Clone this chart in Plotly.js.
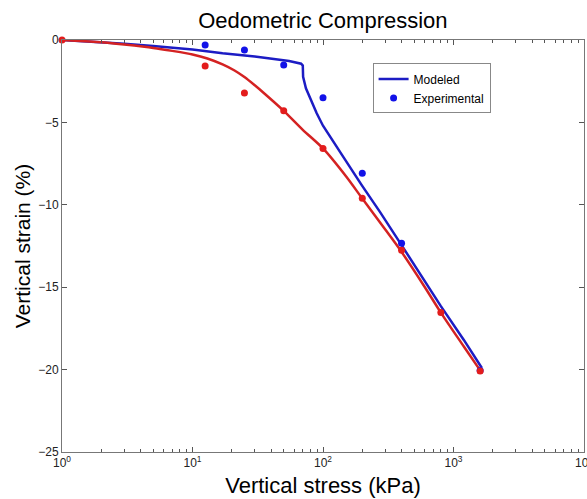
<!DOCTYPE html>
<html>
<head>
<meta charset="utf-8">
<script src="https://cdn.plot.ly/plotly-3.0.1.min.js"></script>
<style>html,body{margin:0;padding:0;background:#fff;}#chart{width:587px;height:499px;}</style>
</head>
<body>
<div id="chart"></div>
<script>
// Modeled curves (stress in kPa, strain in %)
var redModelX = [1, 1.5, 2, 3, 5, 7, 10, 13, 17, 21, 25, 30, 35, 50, 70, 100, 150, 200, 300, 400, 600, 800, 1200, 1600];
var redModelY = [0, -0.08, -0.14, -0.28, -0.48, -0.66, -0.88, -1.12, -1.48, -1.85, -2.25, -2.75, -3.2, -4.3, -5.45, -6.58, -8.27, -9.62, -11.5, -12.86, -14.97, -16.54, -18.6, -20.05];
var blueModelX = [1, 1.5, 2, 3, 5, 7, 10, 17, 30, 55, 64, 68, 70, 70.4, 74, 79.5, 89.5, 100, 113, 143, 198, 273, 400, 600, 800, 1200, 1650];
var blueModelY = [0, -0.08, -0.13, -0.22, -0.36, -0.46, -0.58, -0.81, -1.0, -1.27, -1.37, -1.44, -1.55, -2.23, -2.93, -3.54, -4.45, -5.2, -5.87, -7.09, -8.81, -10.43, -12.45, -14.6, -16.15, -18.2, -19.9];
// Experimental points
var redExpX = [1, 12.5, 25, 50, 100, 200, 400, 800, 1600];
var redExpY = [0, -1.58, -3.22, -4.3, -6.58, -9.6, -12.76, -16.54, -20.09];
var blueExpX = [12.5, 25, 50, 100, 200, 400, 1600];
var blueExpY = [-0.30, -0.61, -1.52, -3.5, -8.08, -12.33, -20.05];
// Axis ticks
var xMajor = [1, 10, 100, 1000, 10000];
var xMajorText = ['10<sup>0</sup>', '10<sup>1</sup>', '10<sup>2</sup>', '10<sup>3</sup>', '10<sup>4</sup>'];
var xMinorMult = [2, 3, 4, 5, 6, 7, 8, 9];
var yTicks = [-25, -20, -15, -10, -5, 0];

var xMinorVals = [];
for (var d = 0; d < xMajor.length - 1; d++) {
  for (var m = 0; m < xMinorMult.length; m++) xMinorVals.push(xMajor[d] * xMinorMult[m]);
}

var blueLine = '#1c1cc4', redLine = '#d42222';
var blueDot = '#1212e8', redDot = '#e31c1c';

var traces = [
  {x: blueModelX, y: blueModelY, mode: 'lines', name: 'Modeled', line: {color: blueLine, width: 2.5}},
  {x: redModelX, y: redModelY, mode: 'lines', name: 'Modeled (red)', showlegend: false, line: {color: redLine, width: 2.5, shape: 'spline', smoothing: 0.8}},
  {x: blueExpX, y: blueExpY, mode: 'markers', name: 'Experimental', cliponaxis: false, marker: {color: blueDot, size: 7}},
  {x: redExpX, y: redExpY, mode: 'markers', name: 'Experimental (red)', showlegend: false, cliponaxis: false, marker: {color: redDot, size: 7}}
];

var axisFont = {family: 'Liberation Sans, Arial, sans-serif', size: 12, color: '#222'};
var layout = {
  width: 587, height: 499,
  margin: {l: 62, r: 3, t: 40, b: 47},
  paper_bgcolor: '#fff', plot_bgcolor: '#fff',
  font: {family: 'Liberation Sans, Arial, sans-serif', color: '#000'},
  title: {text: 'Oedometric Compression', font: {size: 22, color: '#000'}, x: 0.55, xref: 'container', xanchor: 'center', y: 0.96, yanchor: 'middle'},
  showlegend: true,
  legend: {x: 0.595, y: 0.943, xanchor: 'left', yanchor: 'top', bgcolor: '#fff', bordercolor: '#888', borderwidth: 1,
           font: {size: 12, color: '#000'}, tracegroupgap: 0},
  xaxis: {
    type: 'log', range: [0, 4], tickmode: 'array', tickvals: xMajor, ticktext: xMajorText,
    ticks: 'inside', ticklen: 5, tickcolor: '#555', showline: true, linecolor: '#777', linewidth: 1,
    minor: {tickmode: 'array', tickvals: xMinorVals, ticks: 'inside', ticklen: 3, tickcolor: '#555', showgrid: false},
    mirror: 'ticks', showgrid: false, zeroline: false, tickfont: axisFont, ticklabeloverflow: 'allow',
    title: {text: 'Vertical stress (kPa)', font: {size: 22, color: '#000'}, standoff: 8}
  },
  yaxis: {
    range: [-25, 0], tickmode: 'array', tickvals: yTicks,
    ticks: 'inside', ticklen: 5, tickcolor: '#555', showline: true, linecolor: '#777', linewidth: 1,
    mirror: 'ticks', showgrid: false, zeroline: false, tickfont: axisFont,
    title: {text: 'Vertical strain (%)', font: {size: 21, color: '#000'}, standoff: 1}
  }
};

Plotly.newPlot('chart', traces, layout, {displayModeBar: false, staticPlot: true});
</script>
</body>
</html>
